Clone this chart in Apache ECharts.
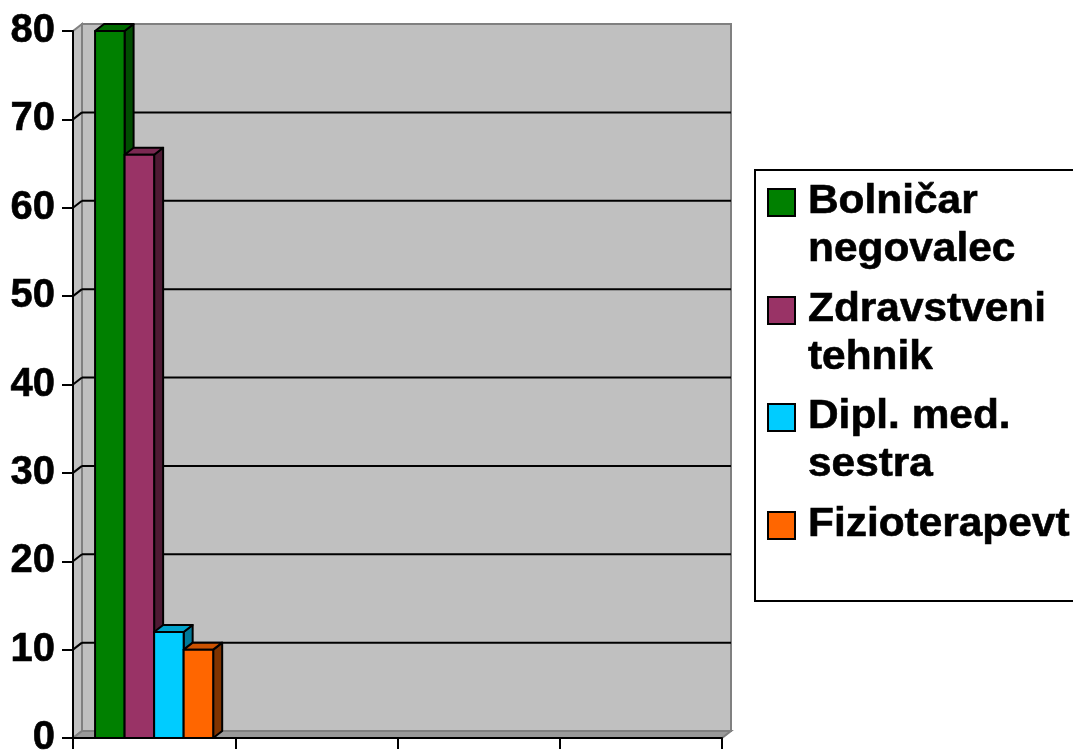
<!DOCTYPE html>
<html>
<head>
<meta charset="utf-8">
<script src="https://cdn.jsdelivr.net/npm/echarts@6/dist/echarts.min.js"></script>
<style>
  html, body { margin: 0; padding: 0; background: #ffffff; }
  #chart { width: 1073px; height: 751px; }
</style>
</head>
<body>
<div id="chart"></div>
<script>
// Category slots along the floor (no labels are printed under them)
const categories = ['', '', '', ''];

// Staff groups and their counts (only the first slot is filled)
const seriesNames = ['Bolničar negovalec', 'Zdravstveni tehnik', 'Dipl. med. sestra', 'Fizioterapevt'];
const bolnicar = [80, null, null, null];
const zdravstveni = [66, null, null, null];
const dipl = [12, null, null, null];
const fizio = [10, null, null, null];
const seriesValues = [bolnicar, zdravstveni, dipl, fizio];

// Value-axis ticks
const yTicks = [0, 10, 20, 30, 40, 50, 60, 70, 80];

// Face colours for each box: front, top, side
const palette = [
  { front: '#008000', top: '#006a00', side: '#004c00' },
  { front: '#993366', top: '#7a2952', side: '#4d1a33' },
  { front: '#00ccff', top: '#00a3cc', side: '#007a99' },
  { front: '#ff6600', top: '#cc5200', side: '#803300' }
];

const DX = 9;   // depth offset to the right
const DY = 7;   // depth offset upwards
const BAR_SHARE = 0.182;
const FONT = '"Liberation Sans", Arial, sans-serif';

const chart = echarts.init(document.getElementById('chart'), null, { renderer: 'canvas' });

// Back wall, side wall, floor and wall gridlines
function renderWalls(params, api) {
  const cs = params.coordSys;
  const gx = cs.x, gy = cs.y, gw = cs.width, gh = cs.height;
  const wallFill = '#c0c0c0', edge = '#808080';
  const children = [
    { type: 'polygon', shape: { points: [[gx, gy], [gx + DX, gy - DY], [gx + DX, gy + gh - DY], [gx, gy + gh]] },
      style: { fill: wallFill, stroke: edge, lineWidth: 2 } },
    { type: 'rect', shape: { x: gx + DX, y: gy - DY, width: gw, height: gh },
      style: { fill: wallFill, stroke: edge, lineWidth: 2 } },
    { type: 'polygon', shape: { points: [[gx, gy + gh], [gx + gw, gy + gh], [gx + gw + DX, gy + gh - DY], [gx + DX, gy + gh - DY]] },
      style: { fill: '#9a9a9a', stroke: edge, lineWidth: 2 } }
  ];
  yTicks.forEach(function (v) {
    if (v === 0 || v === yTicks[yTicks.length - 1]) return;
    const y = api.coord([0, v])[1];
    children.push({ type: 'line', shape: { x1: gx + DX, y1: y - DY, x2: gx + gw + DX, y2: y - DY },
      style: { stroke: '#000', lineWidth: 2 } });
    children.push({ type: 'line', shape: { x1: gx, y1: y, x2: gx + DX, y2: y - DY },
      style: { stroke: '#000', lineWidth: 2 } });
  });
  return { type: 'group', children: children };
}

// One box per value: front face, side face, top face
function makeBoxRenderer(sIdx) {
  return function (params, api) {
    const val = api.value(1);
    if (val === null || val === undefined || isNaN(val)) return null;
    const base = api.coord([api.value(0), 0]);
    const yTop = api.coord([api.value(0), val])[1];
    const y0 = base[1];
    const bandW = api.size([1, 0])[0];
    const bw = bandW * BAR_SHARE;
    const x0 = base[0] - 2 * bw + sIdx * bw;
    const x1 = x0 + bw;
    const c = palette[sIdx];
    const stroke = { stroke: '#000', lineWidth: 2, lineJoin: 'round' };
    return {
      type: 'group',
      children: [
        { type: 'polygon', shape: { points: [[x1, yTop], [x1 + DX, yTop - DY], [x1 + DX, y0 - DY], [x1, y0]] },
          style: Object.assign({ fill: c.side }, stroke) },
        { type: 'polygon', shape: { points: [[x0, yTop], [x1, yTop], [x1 + DX, yTop - DY], [x0 + DX, yTop - DY]] },
          style: Object.assign({ fill: c.top }, stroke) },
        { type: 'rect', shape: { x: x0, y: yTop, width: bw, height: y0 - yTop },
          style: Object.assign({ fill: c.front }, stroke) }
      ]
    };
  };
}

const series = [{
  type: 'custom',
  name: '__walls',
  silent: true,
  z: 0,
  renderItem: renderWalls,
  data: [[0, 0]],
  encode: { x: 0, y: 1 }
}];
seriesNames.forEach(function (name, i) {
  series.push({
    type: 'custom',
    name: name,
    z: 2,
    renderItem: makeBoxRenderer(i),
    data: seriesValues[i].map(function (v, k) { return [k, v]; }),
    encode: { x: 0, y: 1 }
  });
});

// Legend panel drawn as graphic elements
const legendChildren = [
  { type: 'rect', shape: { x: 0, y: 0, width: 340, height: 431 },
    style: { fill: '#ffffff', stroke: '#000', lineWidth: 2 } }
];
const itemTops = [8, 116, 223, 331];
seriesNames.forEach(function (name, i) {
  legendChildren.push({ type: 'rect', shape: { x: 13, y: itemTops[i] + 11, width: 27, height: 27 },
    style: { fill: palette[i].front, stroke: '#000', lineWidth: 2 } });
  legendChildren.push({ type: 'text', x: 53, y: itemTops[i], scaleX: 1.06,
    style: { text: name, width: 262, overflow: 'break', font: 'bold 40px ' + FONT,
      lineHeight: 48, fill: '#000', stroke: '#000', lineWidth: 0.6, textVerticalAlign: 'top' } });
});

chart.setOption({
  animation: false,
  backgroundColor: '#ffffff',
  grid: { left: 73, top: 31, width: 649, height: 707, containLabel: false, outerBoundsMode: 'none' },
  xAxis: {
    type: 'category',
    data: categories,
    boundaryGap: true,
    axisLine: { show: true, lineStyle: { color: '#000', width: 2 } },
    axisTick: { show: true, length: 11, alignWithLabel: false, lineStyle: { color: '#000', width: 2 } },
    axisLabel: { show: false },
    splitLine: { show: false }
  },
  yAxis: {
    type: 'value',
    min: yTicks[0],
    max: yTicks[yTicks.length - 1],
    interval: 10,
    axisLine: { show: true, lineStyle: { color: '#000', width: 2 } },
    axisTick: { show: true, length: 11, lineStyle: { color: '#000', width: 2 } },
    axisLabel: { color: '#000', fontSize: 40, fontWeight: 'bold', fontFamily: FONT, margin: 18,
      textBorderColor: '#000', textBorderWidth: 0.6 },
    splitLine: { show: false }
  },
  graphic: [{ type: 'group', left: 754, top: 169, z: 10, children: legendChildren }],
  series: series
});
</script>
</body>
</html>
